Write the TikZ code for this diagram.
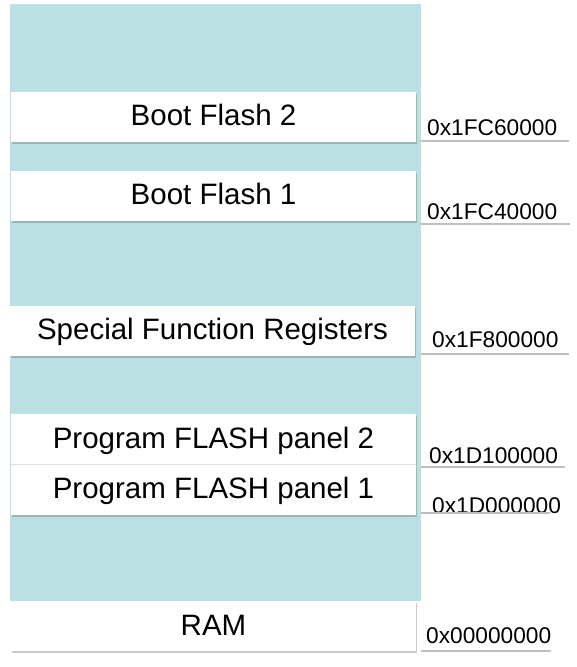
\documentclass[tikz,border=0pt]{standalone}
\usepackage{fontspec}
\setmainfont{Liberation Sans}
\usetikzlibrary{shadows}

\definecolor{mapbg}{HTML}{BBE0E3}
\definecolor{ruleline}{HTML}{BEBEBE}

\tikzset{
    region/.style={fill=white, minimum width=405pt, minimum height=50pt, inner sep=0pt,
        text height=21pt, text depth=3pt, font=\fontsize{29.5}{30}\selectfont,
        drop shadow={shadow xshift=0.6pt, shadow yshift=-2.4pt, fill=black!60, opacity=0.35}},
    addr/.style={anchor=base west, inner sep=0pt, font=\fontsize{22.7}{24}\selectfont},
    underline/.style={draw=ruleline, line width=1.6pt}
}

\begin{document}
\begin{tikzpicture}[x=1pt, y=-1pt]
    \useasboundingbox (0,0) rectangle (577,667);

    % Memory map background
    \node[fill=mapbg, minimum width=411pt, minimum height=597pt, inner sep=0pt, anchor=north west] (map) at (10,4) {};

    % Regions
    \node[region] (bf2) at (213.5,116.5) {Boot Flash 2};
    \node[region] (bf1) at (213.5,195.5) {Boot Flash 1};
    \node[region] (sfr) at (212.5,330.5) {Special Function Registers};
    \node[region] (pf2) at (213.5,439) {Program FLASH panel 2};
    \node[region] (pf1) at (213.5,489.5) {Program FLASH panel 1};
    \node[region] (ram) at (213.5,626) {RAM};
    \draw[white!88!black, line width=0.8pt] (pf2.south west) -- (pf2.south east);

    % Start addresses
    \node[addr] (a1) at (427,135) {0x1FC60000};
    \node[addr] (a2) at (427,219) {0x1FC40000};
    \node[addr] (a3) at (432,347) {0x1F800000};
    \node[addr] (a4) at (429,463) {0x1D100000};
    \node[addr] (a5) at (432,513) {0x1D000000};
    \node[addr] (a6) at (426,643) {0x00000000};

    % Address rules
    \draw[underline] (map.east |- 0,141) -- ++(148,0);
    \draw[underline] (map.east |- 0,224) -- ++(149,0);
    \draw[underline] (map.east |- 0,354) -- ++(148,0);
    \draw[underline] (map.east |- 0,467) -- ++(144,0);
    \draw[underline] (map.east |- 0,513) -- ++(129,0);
    \draw[underline] (map.east |- 0,651) -- ++(130,0);
\end{tikzpicture}
\end{document}
